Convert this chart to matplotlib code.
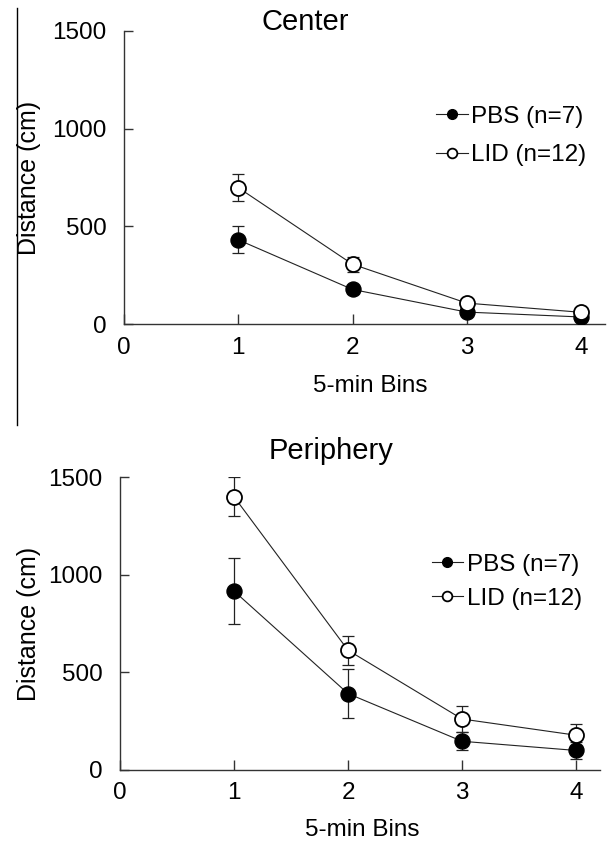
import matplotlib
matplotlib.use('Agg')
from matplotlib import pyplot as plt
from matplotlib.lines import Line2D
import numpy as np

plt.rcParams['font.family'] = ['Liberation Sans', 'DejaVu Sans']

bins = [1, 2, 3, 4]

# Center
center_pbs = [431, 177, 61, 36]
center_pbs_err = [70, 25, 12, 10]
center_lid = [698, 306, 107, 60]
center_lid_err = [70, 38, 15, 10]

# Periphery
periph_pbs = [916, 391, 147, 100]
periph_pbs_err = [170, 125, 45, 45]
periph_lid = [1399, 613, 261, 178]
periph_lid_err = [100, 75, 65, 56]

labels = ['PBS (n=7)', 'LID (n=12)']

fig = plt.figure(figsize=(6.07, 8.44), dpi=100)
ax1 = fig.add_axes([0.2043, 0.6161, 0.7924, 0.3472])
ax2 = fig.add_axes([0.1977, 0.0877, 0.7908, 0.3471])


def draw(ax, pbs, pbs_err, lid, lid_err):
    ax.errorbar(bins, pbs, yerr=pbs_err, fmt='none', ecolor='#222222',
                elinewidth=0.9, capsize=4.3, capthick=0.9, zorder=2)
    ax.errorbar(bins, lid, yerr=lid_err, fmt='none', ecolor='#222222',
                elinewidth=0.9, capsize=4.3, capthick=0.9, zorder=2)
    ax.plot(bins, pbs, '-o', color='#222222', lw=0.8, ms=10.8,
            mfc='black', mec='black', mew=1.0, label=labels[0], zorder=3)
    ax.plot(bins, lid, '-o', color='#222222', lw=0.8, ms=10.8,
            mfc='white', mec='black', mew=1.3, label=labels[1], zorder=4)
    ax.set_xlim(0, 4.21)
    ax.set_ylim(0, 1500)
    ax.set_xticks([0, 1, 2, 3, 4])
    ax.set_yticks([0, 500, 1000, 1500])
    for s in ['top', 'right']:
        ax.spines[s].set_visible(False)
    for s in ['left', 'bottom']:
        ax.spines[s].set_linewidth(1.0)
        ax.spines[s].set_color('#333333')
    ax.tick_params(axis='y', direction='in', length=6.5, width=1.0,
                   color='#333333', labelsize=17.5, pad=12.5)
    ax.tick_params(axis='x', direction='in', length=7, width=1.0,
                   color='#333333', labelsize=17.5, pad=9)
    ax.set_xlabel('5-min Bins', fontsize=17.5)
    ax.set_ylabel('Distance (cm)', fontsize=18)


draw(ax1, center_pbs, center_pbs_err, center_lid, center_lid_err)
draw(ax2, periph_pbs, periph_pbs_err, periph_lid, periph_lid_err)

ax1.text(0.376, 1.003, 'Center', ha='center', va='baseline',
         fontsize=21, transform=ax1.transAxes)
ax2.text(0.44, 1.06, 'Periphery', ha='center', va='baseline',
         fontsize=21, transform=ax2.transAxes)

ax1.xaxis.set_label_coords(0.511, -0.175)
ax2.xaxis.set_label_coords(0.504, -0.168)
ax1.yaxis.set_label_coords(-0.1726, 0.5)
ax2.yaxis.set_label_coords(-0.165, 0.5)

for ax, ls in [(ax1, 0.68), (ax2, 0.5)]:
    leg = ax.legend(loc='center left', bbox_to_anchor=(0.649, 0.642),
                    frameon=False, fontsize=17.5, handlelength=1.3,
                    handletextpad=0.15, borderpad=0, borderaxespad=0,
                    labelspacing=ls)
    for h in leg.legend_handles:
        h.set_markersize(7)

# thin border line at left of upper panel
fig.add_artist(Line2D([0.028, 0.028], [0.9905, 0.4964],
                      transform=fig.transFigure, color='black', lw=1.0))

fig.savefig('out.png', dpi=100)
